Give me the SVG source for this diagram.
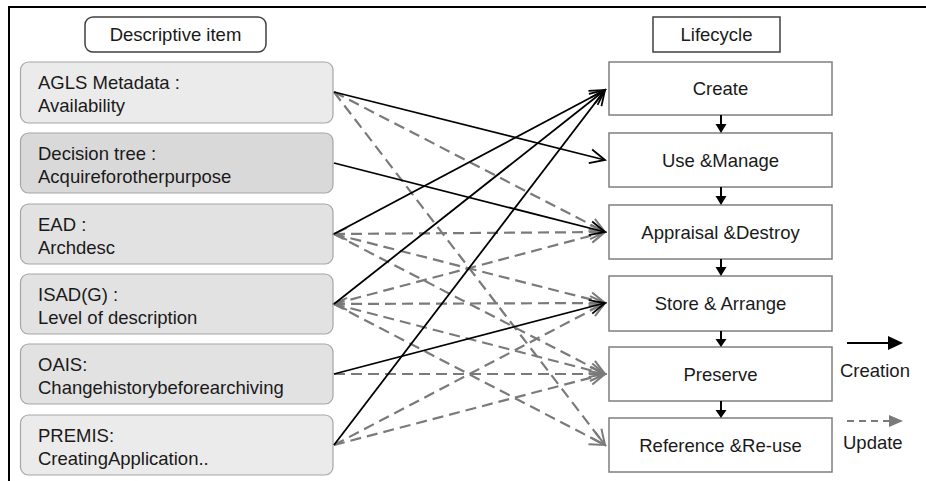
<svg xmlns="http://www.w3.org/2000/svg" width="926" height="481" viewBox="0 0 926 481">
<style>
text{font-family:"Liberation Sans",Arial,sans-serif;font-size:18.5px;fill:#1a1a1a}
.c{text-anchor:middle}
.item{stroke:#a6a6a6;stroke-width:1.2}
.life{fill:#fff;stroke:#7f7f7f;stroke-width:1.5}
.hdr{fill:#fff;stroke:#404040;stroke-width:1.5}
.s{stroke:#000;stroke-width:1.8;fill:none;marker-end:url(#ah)}
.d{stroke:#7a7a7a;stroke-width:2.2;fill:none;stroke-dasharray:11 6;marker-end:url(#ahg)}
.b{marker-start:url(#ahgs)}
.step{stroke:#000;stroke-width:2;fill:none}
</style>
<defs>
<marker id="ah" markerUnits="userSpaceOnUse" viewBox="-18 -9 20 18" refX="0" refY="0" markerWidth="20" markerHeight="18" orient="auto">
<path d="M-15,-7 L0,0 L-15,7" fill="none" stroke="#000" stroke-width="1.8"/>
</marker>
<marker id="ahg" markerUnits="userSpaceOnUse" viewBox="-18 -9 20 18" refX="0" refY="0" markerWidth="20" markerHeight="18" orient="auto">
<path d="M-15,-7 L0,0 L-15,7" fill="none" stroke="#7a7a7a" stroke-width="2"/>
</marker>
<marker id="ahgs" markerUnits="userSpaceOnUse" viewBox="-18 -9 20 18" refX="0" refY="0" markerWidth="20" markerHeight="18" orient="auto-start-reverse">
<path d="M-13,-6 L0,0 L-13,6" fill="none" stroke="#7a7a7a" stroke-width="2"/>
</marker>
</defs>
<rect width="926" height="481" fill="#fff"/>
<path d="M9,481 L9,7 L926,7" fill="none" stroke="#000" stroke-width="2"/>

<g id="hdr-desc"><rect class="hdr" x="85" y="17" width="181" height="35" rx="8"/><text class="c" x="175.5" y="41">Descriptive item</text></g>
<g id="hdr-life"><rect class="hdr" x="653" y="17" width="127" height="35"/><text class="c" x="716.5" y="41">Lifecycle</text></g>

<g id="n-agls"><rect class="item" x="20.5" y="62" width="312.5" height="61" rx="8" fill="#ebebeb"/><text x="38" y="89">AGLS Metadata :</text><text x="38" y="112">Availability</text></g>
<g id="n-dt"><rect class="item" x="20.5" y="133" width="312.5" height="60" rx="8" fill="#d9d9d9"/><text x="38" y="160">Decision tree :</text><text x="38" y="183">Acquireforotherpurpose</text></g>
<g id="n-ead"><rect class="item" x="20.5" y="204" width="312.5" height="60" rx="8" fill="#e2e2e2"/><text x="38" y="231">EAD :</text><text x="38" y="254">Archdesc</text></g>
<g id="n-isad"><rect class="item" x="20.5" y="274" width="312.5" height="60" rx="8" fill="#e2e2e2"/><text x="38" y="301">ISAD(G) :</text><text x="38" y="324">Level of description</text></g>
<g id="n-oais"><rect class="item" x="20.5" y="344" width="312.5" height="60" rx="8" fill="#e2e2e2"/><text x="38" y="371">OAIS:</text><text x="38" y="394">Changehistorybeforearchiving</text></g>
<g id="n-premis"><rect class="item" x="20.5" y="415" width="312.5" height="60" rx="8" fill="#ebebeb"/><text x="38" y="442">PREMIS:</text><text x="38" y="465">CreatingApplication..</text></g>

<g id="l-create"><rect class="life" x="609" y="62" width="223" height="53"/><text class="c" x="720.5" y="95">Create</text></g>
<g id="l-use"><rect class="life" x="609" y="133" width="223" height="54"/><text class="c" x="720.5" y="166.5">Use &amp;Manage</text></g>
<g id="l-appr"><rect class="life" x="609" y="205" width="223" height="54"/><text class="c" x="720.5" y="238.5">Appraisal &amp;Destroy</text></g>
<g id="l-store"><rect class="life" x="609" y="276" width="223" height="55"/><text class="c" x="720.5" y="310">Store &amp; Arrange</text></g>
<g id="l-pres"><rect class="life" x="609" y="347" width="223" height="54"/><text class="c" x="720.5" y="380.5">Preserve</text></g>
<g id="l-ref"><rect class="life" x="609" y="418" width="223" height="54"/><text class="c" x="720.5" y="451.5">Reference &amp;Re-use</text></g>

<g id="steps">
<path class="step" d="M721,115 V125"/><path d="M715.5,124 H726.5 L721,133 Z"/>
<path class="step" d="M721,187 V197"/><path d="M715.5,196 H726.5 L721,205 Z"/>
<path class="step" d="M721,259 V268"/><path d="M715.5,267 H726.5 L721,276 Z"/>
<path class="step" d="M721,331 V340"/><path d="M715.5,339 H726.5 L721,347 Z"/>
<path class="step" d="M721,401 V411"/><path d="M715.5,410 H726.5 L721,418 Z"/>
</g>

<g id="connectors">
<line class="d" x1="334" y1="92" x2="605" y2="232"/>
<line class="d" x1="334" y1="92" x2="605" y2="445"/>
<line class="d b" x1="334" y1="234" x2="605" y2="232"/>
<line class="d" x1="334" y1="234" x2="605" y2="303"/>
<line class="d" x1="334" y1="234" x2="605" y2="374"/>
<line class="d" x1="334" y1="304" x2="605" y2="232"/>
<line class="d b" x1="334" y1="304" x2="605" y2="303"/>
<line class="d" x1="334" y1="304" x2="605" y2="374"/>
<line class="d" x1="334" y1="304" x2="605" y2="445"/>
<line class="d" x1="334" y1="374" x2="605" y2="374"/>
<line class="d" x1="334" y1="445" x2="605" y2="303"/>
<line class="d" x1="334" y1="445" x2="605" y2="374"/>
<line class="s" x1="334" y1="92" x2="605" y2="160"/>
<line class="s" x1="334" y1="163" x2="605" y2="232"/>
<line class="s" x1="334" y1="234" x2="605" y2="90"/>
<line class="s" x1="334" y1="304" x2="605" y2="90"/>
<line class="s" x1="334" y1="374" x2="605" y2="303"/>
<line class="s" x1="334" y1="445" x2="605" y2="90"/>
</g>

<g id="legend">
<path d="M847,343 H890" stroke="#000" stroke-width="2"/><path d="M888,336 L903,343 L888,350 Z"/>
<text x="840" y="377">Creation</text>
<path d="M847,421 H889" stroke="#7a7a7a" stroke-width="2" stroke-dasharray="7 5"/><path d="M889,415 L903,421 L889,427 Z" fill="#7a7a7a"/>
<text x="843" y="449">Update</text>
</g>
</svg>
